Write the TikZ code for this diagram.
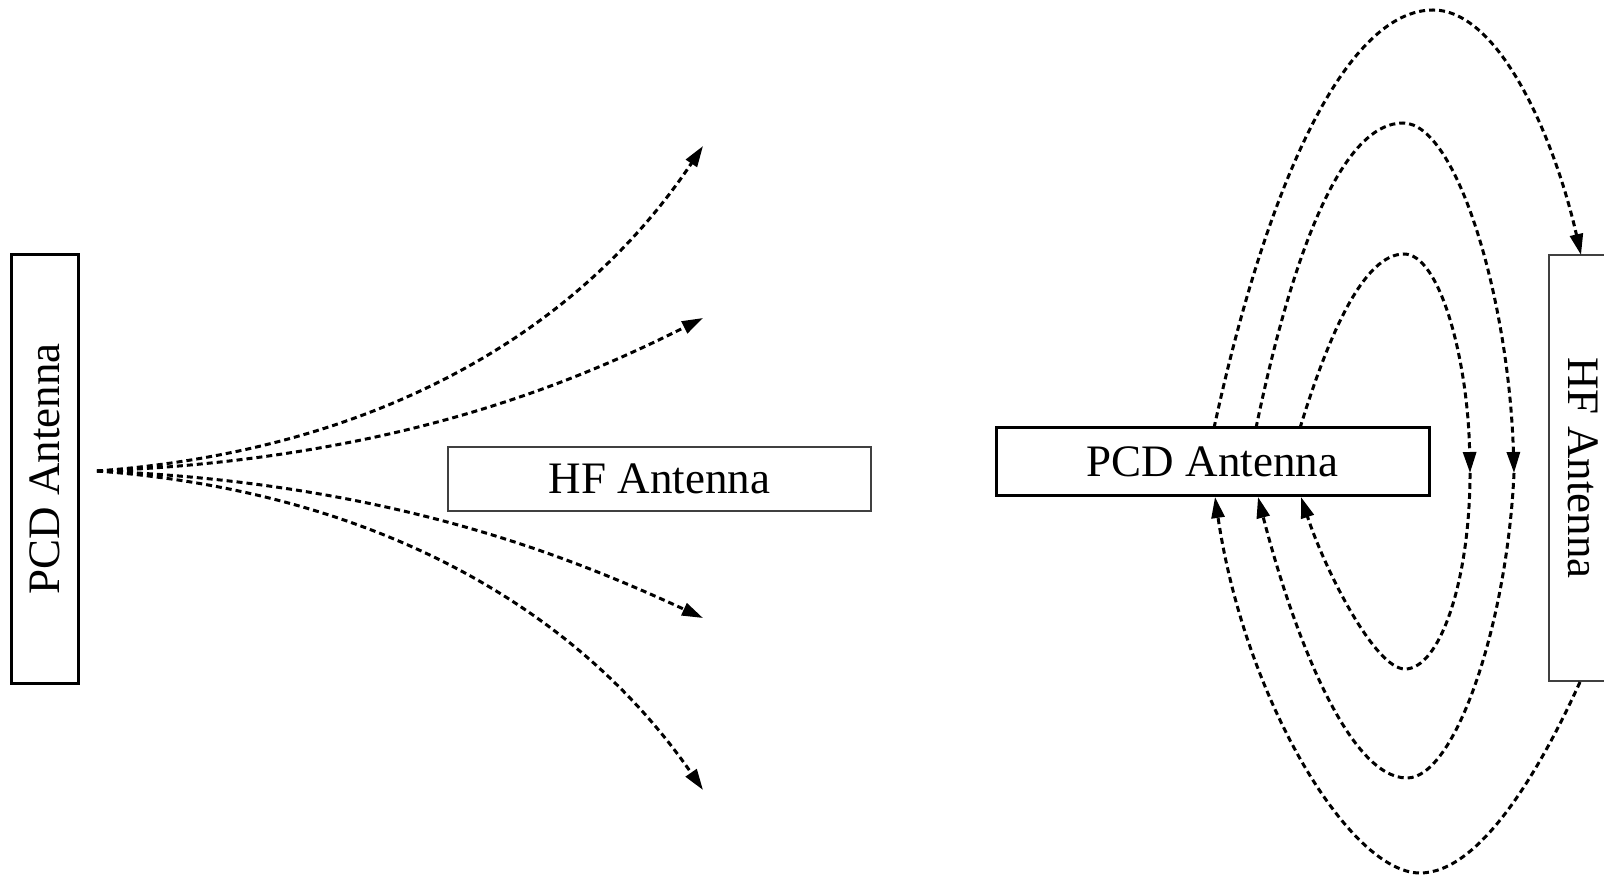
\documentclass[tikz,border=0pt]{standalone}
\usepackage{fontspec}
\setmainfont{Liberation Serif}
\usetikzlibrary{arrows.meta}
\begin{document}
\begin{tikzpicture}[x=0.5pt,y=-0.5pt,
  thickbox/.style={draw, line width=1.5pt, fill=white, inner sep=0pt,
    font=\fontsize{22.5}{27}\selectfont},
  thinbox/.style={draw=black!75, line width=0.6pt, fill=white, inner sep=0pt,
    font=\fontsize{22.5}{27}\selectfont},
  field/.style={line width=1.5pt, dash pattern=on 3pt off 2pt},
  flow/.style={field, -{Triangle[length=10.5pt,width=6.5pt]}}]
\useasboundingbox (0,0) rectangle (1604,876);
\clip (0,0) rectangle (1604,876);

% ---- left: radiation from the PCD antenna ----
\node[thickbox, rotate=90, minimum width=214pt, minimum height=33.5pt]
  (pcdL) at (44.5,469) {PCD Antenna};
\node[thinbox, minimum width=211.5pt, minimum height=32pt]
  (hfL) at (659.5,479) {HF Antenna};

\coordinate (src) at (97,471);
\coordinate (e1) at (703,146);
\coordinate (e2) at (703,318);
\coordinate (e3) at (703,618);
\coordinate (e4) at (703,790);

\draw[flow] (src) .. controls (380,450) and (580,330) .. (e1);
\draw[flow] (src) .. controls (380,460) and (560,390) .. (e2);
\draw[flow] (src) .. controls (380,482) and (560,552) .. (e3);
\draw[flow] (src) .. controls (380,492) and (580,612) .. (e4);

% ---- right: field loops around the PCD antenna ----
\node[thickbox, minimum width=216.5pt, minimum height=33.5pt]
  (pcdR) at (1212.5,461.5) {PCD Antenna};
\node[thinbox, rotate=-90, minimum width=213pt, minimum height=34pt]
  (hfR) at (1583,468) {HF Antenna};

\coordinate (iA) at (1300,428);
\coordinate (iM) at (1470,473);
\coordinate (iB) at (1301,497);
\coordinate (mA) at (1256,428);
\coordinate (mM) at (1514,473);
\coordinate (mB) at (1258,497);
\coordinate (oA) at (1214,428);
\coordinate (oT) at (1581,255);
\coordinate (oS) at (1580,682);
\coordinate (oB) at (1215,497);

% inner loop
\draw[flow] (iA) .. controls (1330,330) and (1365,254) .. (1404,254)
  .. controls (1440,254) and (1468,360) .. (iM);
\draw[flow] (iM) .. controls (1470,580) and (1440,669) .. (1405,669)
  .. controls (1375,669) and (1325,570) .. (iB);
% middle loop
\draw[flow] (mA) .. controls (1295,240) and (1345,123) .. (1403,123)
  .. controls (1457,123) and (1509,300) .. (mM);
\draw[flow] (mM) .. controls (1507,625) and (1455,778) .. (1407,778)
  .. controls (1350,778) and (1295,640) .. (mB);
% outer loop, passing through the HF antenna
\draw[flow] (oA) .. controls (1270,170) and (1350,10) .. (1433,10)
  .. controls (1500,10) and (1555,140) .. (oT);
\draw[flow] (oS) .. controls (1540,770) and (1480,873) .. (1420,873)
  .. controls (1350,873) and (1245,700) .. (oB);
\end{tikzpicture}
\end{document}
